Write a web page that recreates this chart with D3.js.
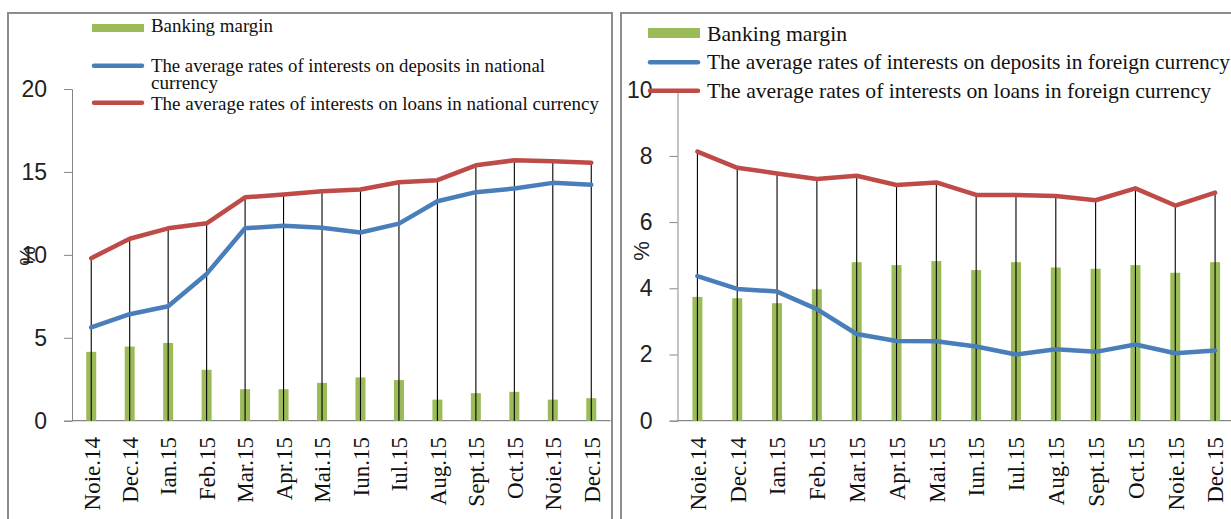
<!DOCTYPE html>
<html>
<head>
<meta charset="utf-8">
<script src="https://cdn.jsdelivr.net/npm/d3@7"></script>
<style>
  html, body { margin: 0; padding: 0; background: #fff; }
  svg { display: block; }
</style>
</head>
<body>
<svg id="chart" width="1231" height="519"></svg>
<script>
var months = ['Noie.14', 'Dec.14', 'Ian.15', 'Feb.15', 'Mar.15', 'Apr.15', 'Mai.15',
              'Iun.15', 'Iul.15', 'Aug.15', 'Sept.15', 'Oct.15', 'Noie.15', 'Dec.15'];

// national currency panel
var nationalMargin   = [4.15, 4.47, 4.69, 3.07, 1.9, 1.9, 2.28, 2.61, 2.45, 1.27, 1.66, 1.74, 1.27, 1.36];
var nationalDeposits = [5.62, 6.42, 6.9, 8.85, 11.6, 11.75, 11.64, 11.35, 11.88, 13.23, 13.78, 14.0, 14.34, 14.22];
var nationalLoans    = [9.8, 10.97, 11.6, 11.9, 13.47, 13.64, 13.84, 13.94, 14.38, 14.5, 15.4, 15.7, 15.65, 15.55];
var nationalTicks    = [0, 5, 10, 15, 20];

// foreign currency panel
var foreignMargin   = [3.74, 3.7, 3.55, 3.97, 4.79, 4.7, 4.82, 4.55, 4.79, 4.63, 4.59, 4.7, 4.47, 4.79];
var foreignDeposits = [4.37, 3.98, 3.9, 3.37, 2.62, 2.41, 2.4, 2.24, 2.0, 2.16, 2.08, 2.3, 2.04, 2.12];
var foreignLoans    = [8.13, 7.64, 7.47, 7.3, 7.4, 7.12, 7.2, 6.82, 6.82, 6.79, 6.66, 7.02, 6.5, 6.89];
var foreignTicks    = [0, 2, 4, 6, 8, 10];

var nationalLegend = ['Banking margin',
  'The average rates of interests on deposits in national',
  'currency',
  'The average rates of interests  on loans in national currency'];
var foreignLegend = ['Banking margin',
  'The average rates of interests on deposits in foreign currency',
  'The average rates of interests  on loans in foreign currency'];

var GREEN = '#9bbb59', BLUE = '#4a7ebb', RED = '#be4b48', AXIS = '#868686';
var serif = '"Liberation Serif", "Times New Roman", serif',
    sans = '"Liberation Sans", Arial, sans-serif';

var svg = d3.select('#chart');

var drawPanel = function(cfg) {
  var g = svg.append('g');

  // panel frame, runs off the bottom of the picture
  g.append('rect')
    .attr('x', cfg.frame[0]).attr('y', cfg.frame[1])
    .attr('width', cfg.frame[2]).attr('height', 540)
    .attr('fill', 'none').attr('stroke', '#8c8c8c').attr('stroke-width', 2);

  var x = d3.scaleBand().domain(months).range(cfg.xRange);
  var y = d3.scaleLinear().domain([0, cfg.yMax]).range([420.7, cfg.yTop]);
  var cx = function(d, i) { return x(months[i]) + x.bandwidth() / 2; };

  // y axis
  var yAxis = g.append('g')
    .attr('transform', 'translate(' + cfg.xRange[0] + ',0)')
    .call(d3.axisLeft(y).tickValues(cfg.ticks).tickSize(8).tickPadding(17));
  yAxis.selectAll('line, path').attr('stroke', AXIS);
  yAxis.selectAll('text')
    .attr('fill', '#222').style('font-family', sans).style('font-size', '23px');

  // x axis line + rotated month labels
  g.append('line')
    .attr('x1', cfg.xRange[0]).attr('x2', cfg.xRange[1])
    .attr('y1', y(0)).attr('y2', y(0))
    .attr('stroke', AXIS).attr('stroke-width', 1.3);

  g.selectAll('text.month')
    .data(months)
    .enter().append('text')
      .attr('class', 'month')
      .attr('transform', function(d, i) { return 'translate(' + cx(d, i) + ',437)rotate(-90)'; })
      .attr('text-anchor', 'end')
      .attr('dy', '0.36em')
      .style('font-family', serif)
      .style('font-size', '23px')
      .attr('fill', '#111')
      .text(function(d) { return d; });

  g.append('text')
    .attr('transform', 'translate(' + cfg.pct[0] + ',' + cfg.pct[1] + ')rotate(-90)')
    .attr('text-anchor', 'middle')
    .attr('dy', '0.35em')
    .style('font-family', sans).style('font-size', '22px')
    .attr('fill', '#222')
    .text('%');

  // margin bars
  g.selectAll('rect.bar')
    .data(cfg.margin)
    .enter().append('rect')
      .attr('class', 'bar')
      .attr('x', function(d, i) { return cx(d, i) - 5; })
      .attr('width', 10)
      .attr('y', function(d) { return y(d); })
      .attr('height', function(d) { return y(0) - y(d); })
      .attr('fill', GREEN);

  // drop lines from the loans line down to zero
  g.selectAll('line.drop')
    .data(cfg.loans)
    .enter().append('line')
      .attr('class', 'drop')
      .attr('x1', cx).attr('x2', cx)
      .attr('y1', function(d) { return y(d); })
      .attr('y2', y(0))
      .attr('stroke', '#000').attr('stroke-width', 1.1);

  var line = d3.line().x(cx).y(function(d) { return y(d); });

  [[cfg.deposits, BLUE], [cfg.loans, RED]].forEach(function(s) {
    g.append('path')
      .datum(s[0])
      .attr('d', line)
      .attr('fill', 'none')
      .attr('stroke', s[1])
      .attr('stroke-width', 4.5)
      .attr('stroke-linejoin', 'round')
      .attr('stroke-linecap', 'round');
  });

  // legend
  var lg = cfg.legend;
  g.append('rect')
    .attr('x', lg.x).attr('y', lg.rectY)
    .attr('width', 52).attr('height', lg.rectH)
    .attr('fill', GREEN);
  [[lg.blueY, BLUE], [lg.redY, RED]].forEach(function(s) {
    g.append('line')
      .attr('x1', lg.x + 2).attr('x2', lg.x + 50)
      .attr('y1', s[0]).attr('y2', s[0])
      .attr('stroke', s[1]).attr('stroke-width', 4.5)
      .attr('stroke-linecap', 'round');
  });
  lg.texts.forEach(function(t) {
    g.append('text')
      .attr('x', lg.x + 59).attr('y', t[1])
      .attr('textLength', t[2])
      .attr('lengthAdjust', 'spacingAndGlyphs')
      .style('font-family', serif)
      .style('font-size', lg.fontSize + 'px')
      .attr('fill', '#111')
      .text(t[0]);
  });
};

drawPanel({
  frame: [8, 13, 604],
  xRange: [72, 610.5],
  yMax: 20, yTop: 89,
  ticks: nationalTicks,
  pct: [27, 256],
  margin: nationalMargin, deposits: nationalDeposits, loans: nationalLoans,
  legend: {
    x: 92, rectY: 24, rectH: 8, blueY: 65.7, redY: 102.7, fontSize: 19,
    texts: [[nationalLegend[0], 32, 122], [nationalLegend[1], 71.5, 394],
            [nationalLegend[2], 89, 67], [nationalLegend[3], 110, 448]]
  }
});

drawPanel({
  frame: [621, 13, 620],
  xRange: [677.5, 1235],
  yMax: 10, yTop: 89.7,
  ticks: foreignTicks,
  pct: [641, 251],
  margin: foreignMargin, deposits: foreignDeposits, loans: foreignLoans,
  legend: {
    x: 648, rectY: 28, rectH: 10, blueY: 62.3, redY: 90.7, fontSize: 21,
    texts: [[foreignLegend[0], 40.5, 140], [foreignLegend[1], 69.3, 523],
            [foreignLegend[2], 98.3, 504]]
  }
});
</script>
</body>
</html>
